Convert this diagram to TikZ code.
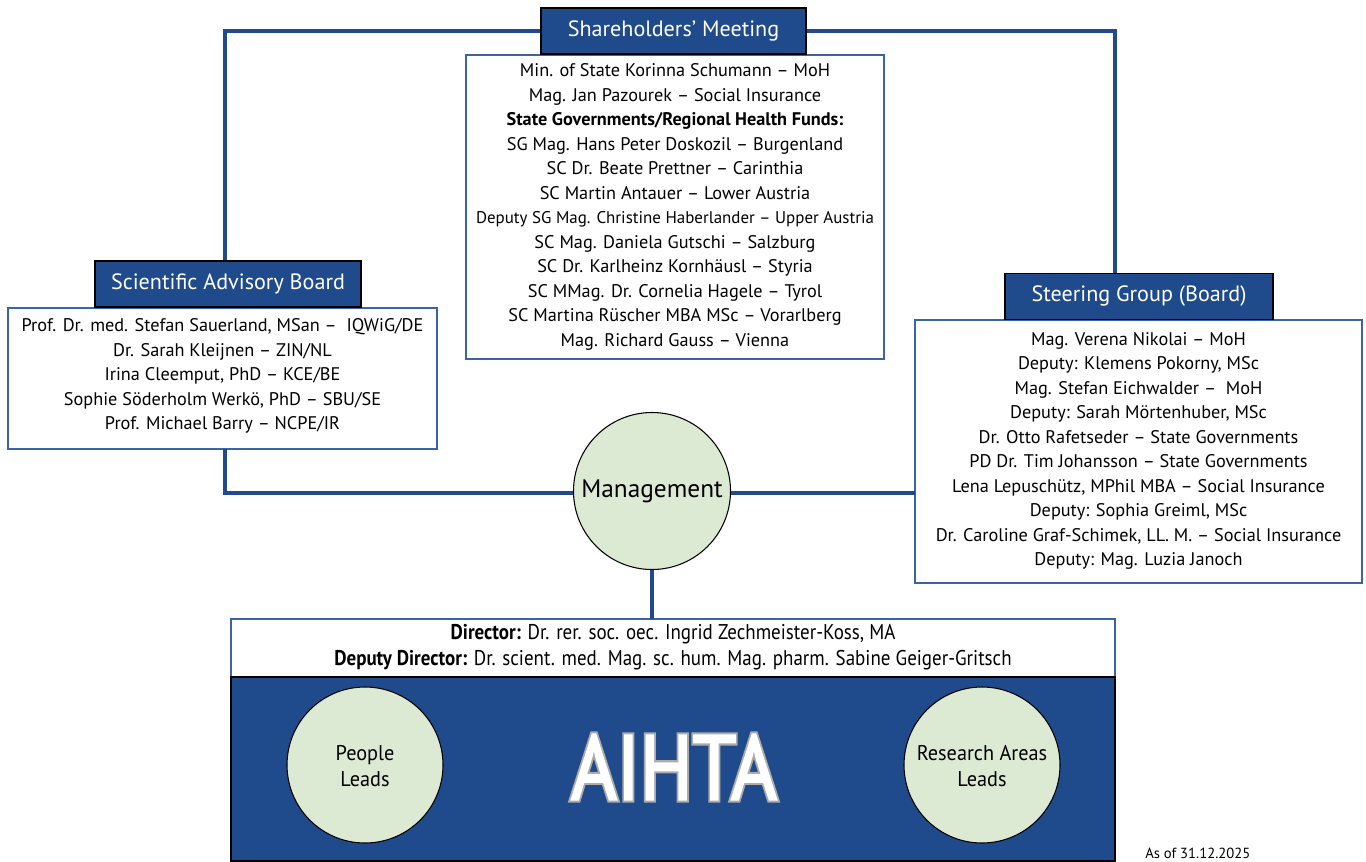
\documentclass[tikz,border=0pt]{standalone}
\usepackage{fontspec}
\setmainfont{PT Sans}
\newfontfamily\aihtaout[FakeBold=7]{PT Sans}
\newfontfamily\aihtain[FakeBold=2.5]{PT Sans}
\usetikzlibrary{shapes.geometric,calc}
\definecolor{navy}{HTML}{1F4B8C}
\definecolor{edgeblue}{HTML}{3A64A8}
\definecolor{leaf}{HTML}{DCE9D3}
\begin{document}
\begin{tikzpicture}[x=0.75pt,y=-0.75pt,
  header/.style={draw=black,line width=1pt,fill=navy,text=white,minimum height=34.5pt,inner sep=0pt,font=\fontsize{16.6}{18}\selectfont},
  listbox/.style={draw=edgeblue,line width=1pt,fill=white},
  listtext/.style={align=center,inner sep=0pt,font=\fontsize{13.7}{18.4}\selectfont},
  link/.style={draw=navy,line width=2.5pt},
  leafcircle/.style={draw=black,line width=0.8pt,fill=leaf,circle,inner sep=0pt},
  leadtext/.style={align=center,inner sep=0pt,xscale=0.95,transform shape,font=\fontsize{16}{20}\selectfont}]
\useasboundingbox (0,0) rectangle (1366,861);
\fill[white] (0,0) rectangle (1366,861);

\coordinate (tl) at (225,31);
\coordinate (tr) at (1115,31);
\coordinate (bl) at (225,493);
\coordinate (br) at (915,493);
\coordinate (sabbot) at (225,449);

% boxes
\draw[listbox] (466,55) rectangle (884,359);
\node[header,minimum width=198.75pt] (share) at (673.5,31) {Shareholders’ Meeting};
\node[listtext] (sharelist) at (675,207) {Min. of State Korinna Schumann – MoH\\
Mag. Jan Pazourek – Social Insurance\\
\textbf{State Governments/Regional Health Funds:}\\
SG Mag. Hans Peter Doskozil – Burgenland\\
SC Dr. Beate Prettner – Carinthia\\
SC Martin Antauer – Lower Austria\\
{\fontsize{12.7}{18.4}\selectfont Deputy SG Mag. Christine Haberlander – Upper Austria}\\
SC Mag. Daniela Gutschi – Salzburg\\
SC Dr. Karlheinz Kornhäusl – Styria\\
SC MMag. Dr. Cornelia Hagele – Tyrol\\
SC Martina Rüscher MBA MSc – Vorarlberg\\
Mag. Richard Gauss – Vienna};

\draw[listbox] (8,308) rectangle (437,449);
\node[header,minimum width=199.5pt] (sab) at (228,284) {Scientific Advisory Board};
\node[listtext] (sablist) at (222.5,376) {Prof. Dr. med. Stefan Sauerland, MSan –\ \ IQWiG/DE\\
Dr. Sarah Kleijnen – ZIN/NL\\
Irina Cleemput, PhD – KCE/BE\\
Sophie Söderholm Werkö, PhD – SBU/SE\\
Prof. Michael Barry – NCPE/IR};

\draw[listbox] (915,320) rectangle (1362,583);
\node[header,minimum width=201pt] (steer) at (1139,296.5) {Steering Group (Board)};
\node[listtext] (steerlist) at (1138.5,451) {Mag. Verena Nikolai – MoH\\
Deputy: Klemens Pokorny, MSc\\
Mag. Stefan Eichwalder –\ \ MoH\\
Deputy: Sarah Mörtenhuber, MSc\\
Dr. Otto Rafetseder – State Governments\\
PD Dr. Tim Johansson – State Governments\\
Lena Lepuschütz, MPhil MBA – Social Insurance\\
Deputy: Sophia Greiml, MSc\\
Dr. Caroline Graf-Schimek, LL. M. – Social Insurance\\
Deputy: Mag. Luzia Janoch};

% management
\node[leafcircle,minimum size=117.75pt,font=\fontsize{19}{22}\selectfont] (mgmt) at (652,491) {Management};

% AIHTA block
\coordinate (dirtop) at (652,619);
\draw[draw=edgeblue,line width=1pt,fill=white] (231,619) rectangle (1115,677);
\draw[draw=black,line width=1pt,fill=navy] (231,677) rectangle (1115,861);
\node[align=center,inner sep=0pt,xscale=0.89,transform shape,font=\fontsize{16}{19.5}\selectfont] (dir) at (673,647.5) {\textbf{Director:} Dr. rer. soc. oec. Ingrid Zechmeister-Koss, MA\\
\textbf{Deputy Director:} Dr. scient. med. Mag. sc. hum. Mag. pharm. Sabine Geiger-Gritsch};

\node[leafcircle,minimum size=117pt] (people) at (365,765) {};
\node[leadtext] (peopletxt) at (365,766) {People\\Leads};
\node[leafcircle,minimum size=117pt] (research) at (982,765) {};
\node[leadtext] (researchtxt) at (982,766) {Research Areas\\Leads};

\node[text=gray!65,xscale=0.86,transform shape,inner sep=0pt,font=\aihtaout\fontsize{68.5}{70}\selectfont] (aihtashadow) at (674,767) {AIHTA};
\node[text=white,xscale=0.86,transform shape,inner sep=0pt,font=\aihtain\fontsize{68.5}{70}\selectfont] (aihta) at (674,767) {AIHTA};

\node[anchor=west,inner sep=0pt,font=\fontsize{11}{13}\selectfont] (asof) at (1145,853) {As of 31.12.2025};

% connectors
\draw[link] (share.west) -- (tl) -- (tl |- sab.north);
\draw[link] (share.east) -- (tr) -- (tr |- steer.north);
\draw[link] (sabbot) -- (bl) -- (mgmt.west |- bl);
\draw[link] (mgmt.east |- br) -- (br);
\draw[link] (mgmt.south) -- (dirtop);
\end{tikzpicture}
\end{document}
